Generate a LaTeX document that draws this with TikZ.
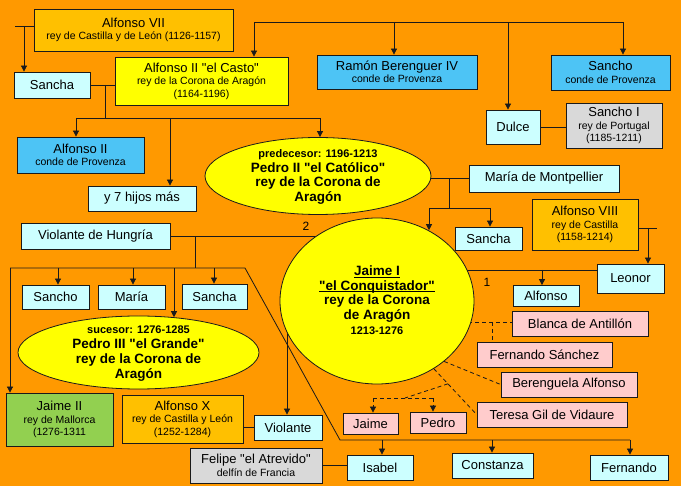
\documentclass[tikz,border=0pt]{standalone}
\usepackage{fontspec}
\setmainfont{Liberation Sans}
\usetikzlibrary{shapes.geometric,arrows.meta,calc}
\definecolor{bgor}{HTML}{FF9900}
\definecolor{cyanb}{HTML}{CCFFFF}
\definecolor{blueb}{HTML}{4DC4F5}
\definecolor{orb}{HTML}{FFC000}
\definecolor{yelb}{HTML}{FFFF00}
\definecolor{greyb}{HTML}{D9D9D9}
\definecolor{pinkb}{HTML}{FFCCCC}
\definecolor{greenb}{HTML}{92D050}
\definecolor{edge}{HTML}{1A1A1A}
\pgfdeclarelayer{bglayer}
\pgfdeclarelayer{linelayer}
\pgfsetlayers{bglayer,linelayer,main}
\newcommand{\Nm}[1]{{\fontsize{13}{14}\selectfont #1}}
\newcommand{\Smb}[1]{{\fontsize{11}{14.8}\selectfont #1}}
\newcommand{\qq}{\XeTeXglyph\XeTeXcharglyph"22 }
\newcommand{\Ul}[1]{\underline{\smash{#1}}}
\begin{document}
\begin{tikzpicture}[x=1pt,y=-1pt,
  bx/.style={draw=edge, line width=0.8pt, rectangle, inner sep=0pt, align=center,
    font=\fontsize{10.5}{12.5}\selectfont, text=black},
  wh/.style 2 args={minimum width=#1pt, minimum height=#2pt},
  cy/.style={bx, fill=cyanb},
  pk/.style={bx, fill=pinkb},
  nm/.style={font=\fontsize{13}{15}\selectfont},
  ell/.style={ellipse, draw=edge, line width=0.8pt, fill=yelb, inner sep=0pt},
  ellt/.style={align=center, inner sep=0pt, font=\bfseries\fontsize{13.5}{14.8}\selectfont},
  lbl/.style={inner sep=0pt, font=\fontsize{12}{14}\selectfont},
  ln/.style={line width=0.8pt, draw=edge},
  arr/.style={ln, -{Triangle[length=6pt,width=6pt]}},
  dsh/.style={ln, dash pattern=on 4pt off 3pt},
  darr/.style={dsh, -{Triangle[length=6pt,width=6pt]}},
]
\useasboundingbox (0,0) rectangle (681,486);
\begin{pgfonlayer}{bglayer}
\fill[bgor] (0,0) rectangle (681,486);
\end{pgfonlayer}

% ---------- nodes ----------
\node[bx,fill=orb,wh={199}{42}] (a7) at (133.5,30) {\Nm{Alfonso VII}\\rey de Castilla y de León (1126-1157)};
\node[cy,nm,wh={76}{26}] (sanchaA) at (52,85) {Sancha};
\node[bx,fill=yelb,wh={173}{48}] (a2) at (201.5,81) {\Nm{Alfonso II \qq el Casto\qq}\\rey de la Corona de Aragón\\(1164-1196)};
\node[bx,fill=blueb,wh={127}{36}] (a2p) at (80.5,155) {\Nm{Alfonso II}\\conde de Provenza};
\node[cy,nm,wh={108}{25}] (hijos) at (142,198.5) {y 7 hijos más};
\node[ell,minimum width=226pt,minimum height=77pt] (p2) at (318,176) {};
\node[ellt] (p2t) at (318,177) {\Smb{predecesor: 1196-1213}\\Pedro II \qq el Católico\qq\\rey de la Corona de\\Aragón};
\node[bx,fill=blueb,wh={160}{34}] (ramon) at (397,72) {\Nm{Ramón Berenguer IV}\\conde de Provenza};
\node[bx,fill=blueb,wh={119}{35}] (sanchoP) at (610.5,72.5) {\Nm{Sancho}\\conde de Provenza};
\node[cy,nm,wh={54}{34}] (dulce) at (513,127) {Dulce};
\node[bx,fill=greyb,wh={96}{45}] (sancho1) at (614,125.5) {\Nm{Sancho I}\\rey de Portugal\\(1185-1211)};
\node[cy,nm,wh={150}{27}] (mariaM) at (544,178.5) {María de Montpellier};
\node[cy,nm,wh={67}{23}] (sanchaM) at (488.5,238.5) {Sancha};
\node[bx,fill=orb,wh={106}{51}] (a8) at (585,224.5) {\Nm{Alfonso VIII}\\rey de Castilla\\(1158-1214)};
\node[cy,nm,wh={67}{29}] (leonor) at (630.5,278.5) {Leonor};
\node[ell,minimum width=194pt,minimum height=166pt] (j1) at (377,301) {};
\node[ellt] (j1t) at (377,305) {\Ul{Jaime I}\\\Ul{\qq el Conquistador\qq}\\rey de la Corona\\de Aragón\\\Smb{1213-1276}};
\node[cy,nm,wh={66}{21}] (alfonso) at (546,296) {Alfonso};
\node[pk,nm,wh={136}{25}] (blanca) at (580,323.5) {Blanca de Antillón};
\node[pk,nm,wh={135}{25}] (fernS) at (544.5,354.5) {Fernando Sánchez};
\node[pk,nm,wh={136}{25}] (beren) at (569,384.5) {Berenguela Alfonso};
\node[pk,nm,wh={150}{25}] (teresa) at (552,414.5) {Teresa Gil de Vidaure};
\node[pk,nm,wh={55}{21}] (jaimeP) at (370.5,423.5) {Jaime};
\node[pk,nm,wh={56}{21}] (pedroP) at (438,422.5) {Pedro};
\node[cy,nm,wh={66}{25}] (isabel) at (380,467.5) {Isabel};
\node[cy,nm,wh={81}{25}] (constanza) at (492.5,465.5) {Constanza};
\node[cy,nm,wh={78}{25}] (fernando) at (629,467.5) {Fernando};
\node[bx,fill=greyb,wh={132}{35}] (felipe) at (256,465.5) {\Nm{Felipe \qq el Atrevido\qq}\\delfín de Francia};
\node[cy,nm,wh={68}{25}] (violante) at (288,427.5) {Violante};
\node[bx,fill=orb,wh={121}{48}] (a10) at (182.5,419) {\Nm{Alfonso X}\\rey de Castilla y León\\(1252-1284)};
\node[bx,fill=greenb,wh={107}{53}] (j2) at (59.5,419.5) {\Nm{Jaime II}\\rey de Mallorca\\(1276-1311};
\node[cy,nm,wh={149}{26}] (violH) at (95.5,236) {Violante de Hungría};
\node[cy,nm,wh={67}{24}] (sanchoL) at (55.5,297) {Sancho};
\node[cy,nm,wh={67}{24}] (mariaL) at (131.5,297) {María};
\node[cy,nm,wh={65}{25}] (sanchaL) at (214.5,296.5) {Sancha};
\node[ell,minimum width=241pt,minimum height=73pt] (p3) at (138.5,352.5) {};
\node[ellt] (p3t) at (138.5,353.5) {\Smb{sucesor: 1276-1285}\\Pedro III \qq el Grande\qq\\rey de la Corona de\\Aragón};
\node[lbl] (n1) at (487,282) {1};
\node[lbl] (n2) at (306,226) {2};

% ---------- connectors ----------
\begin{pgfonlayer}{linelayer}
% Alfonso VII
\coordinate (c7) at (15,26);
\coordinate (c7d) at (24,26);
\draw[ln] (c7) -- (c7 -| a7.west);
\draw[arr] (c7d) -- (c7d |- sanchaA.north);
% Sancha + Alfonso II el Casto
\coordinate (m2) at (105,85);
\coordinate (b2) at (105,118);
\coordinate (b2l) at (76,118);
\coordinate (b2m) at (170,118);
\coordinate (b2r) at (320,118);
\draw[ln] (sanchaA.east) -- (a2.west |- sanchaA.east);
\draw[ln] (m2) -- (b2);
\draw[ln] (b2l) -- (b2r);
\draw[arr] (b2l) -- (b2l |- a2p.north);
\draw[arr] (b2m) -- (b2m |- hijos.north);
\draw[arr] (b2r) -- (b2r |- p2.north);
% top bar
\coordinate (t1) at (254,22);
\coordinate (t2) at (394,22);
\coordinate (t3) at (508,22);
\coordinate (t4) at (623,22);
\draw[ln] (t1) -- (t4);
\draw[arr] (t1) -- (t1 |- a2.north);
\draw[arr] (t2) -- (t2 |- ramon.north);
\draw[arr] (t3) -- (t3 |- dulce.north);
\draw[arr] (t4) -- (t4 |- sanchoP.north);
% Dulce + Sancho I
\draw[ln] (dulce.east) -- (sancho1.west |- dulce.east);
% Pedro II + Maria
\coordinate (m5) at (449,178);
\coordinate (b5) at (449,208);
\coordinate (b5l) at (429,208);
\coordinate (b5r) at (490,208);
\draw[ln] (p2.center |- m5) -- (mariaM.west |- m5);
\draw[ln] (m5) -- (b5);
\draw[ln] (b5l) -- (b5r);
\draw[arr] (b5l) -- (b5l |- j1.54);
\draw[arr] (b5r) -- (b5r |- sanchaM.north);
% Alfonso VIII
\coordinate (m8) at (648,228);
\coordinate (m8e) at (657,228);
\draw[ln] (a8.east |- m8) -- (m8e);
\draw[arr] (m8) -- (m8 |- leonor.north);
% Jaime I + Leonor
\coordinate (m1) at (542,270);
\draw[ln] (j1.center |- m1) -- (leonor.west |- m1);
\draw[arr] (m1) -- (m1 |- alfonso.north);
% Violante de Hungria + Jaime I
\coordinate (m6) at (195,236);
\coordinate (b6) at (195,268);
\coordinate (b6a) at (10,268);
\coordinate (b6b) at (245,268);
\coordinate (b6c) at (340,440);
\coordinate (b6d) at (630,440);
\coordinate (b6s) at (58,268);
\coordinate (b6m) at (133,268);
\coordinate (b6p) at (174,268);
\coordinate (b6t) at (214,268);
\coordinate (b6i) at (382,440);
\coordinate (b6k) at (492,440);
\draw[ln] (violH.east) -- (j1.center |- violH.east);
\draw[ln] (m6) -- (b6);
\draw[ln] (b6a) -- (b6b) -- (b6c) -- (b6d);
\draw[arr] (b6a) -- (b6a |- j2.north);
\draw[arr] (b6s) -- (b6s |- sanchoL.north);
\draw[arr] (b6m) -- (b6m |- mariaL.north);
\draw[arr] (b6p) -- (b6p |- p3.45);
\draw[arr] (b6t) -- (b6t |- sanchaL.north);
\draw[arr] (b6i) -- (b6i |- isabel.north);
\draw[arr] (b6k) -- (b6k |- constanza.north);
\draw[arr] (b6d) -- (b6d |- fernando.north);
% Violante
\coordinate (v0) at (287,330);
\draw[arr] (v0) -- (v0 |- violante.north);
\draw[ln] (violante.west) -- (a10.east |- violante.west);
\draw[ln] (felipe.east) -- (isabel.west |- felipe.east);
% dashed relations
\coordinate (mb) at (492,322);
\draw[dsh] (j1.center |- mb) -- (blanca.west |- mb);
\draw[dsh] (mb) -- (mb |- fernS.north);
\draw[dsh] (j1.-42) -- (beren.west);
\draw[dsh] (j1.-50) -- (teresa.west);
\coordinate (tm) at ($(j1.-50)!0.33!(teresa.west)$);
\coordinate (jb) at (405,398);
\coordinate (jbl) at (373,398);
\coordinate (jbr) at (433,398);
\draw[dsh] (tm) -- (jb);
\draw[dsh] (jbl) -- (jbr);
\draw[darr] (jbl) -- (jbl |- jaimeP.north);
\draw[darr] (jbr) -- (jbr |- pedroP.north);
\end{pgfonlayer}
\end{tikzpicture}
\end{document}
